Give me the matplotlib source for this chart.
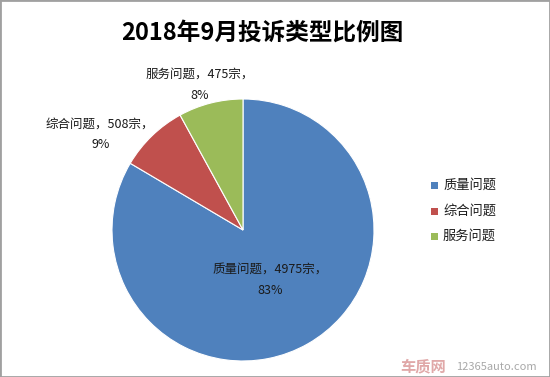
import matplotlib.pyplot as plt
from matplotlib.patches import Rectangle

plt.rcParams['font.family'] = ['Noto Sans CJK SC', 'DejaVu Sans']

title = '2018年9月投诉类型比例图'
categories = ['质量问题', '综合问题', '服务问题']
counts = [4975, 508, 475]
percents = [83, 9, 8]
colors = ['#4F81BD', '#C0504D', '#9BBB59']

fig = plt.figure(figsize=(5.5, 3.77), dpi=100)
fig.patch.set_facecolor('white')

# pie axes: square in pixels, centre ~ (243, 230)
ax = fig.add_axes([112 / 550, 16 / 377, 262 / 550, 262 / 377])
wedges, _ = ax.pie(counts, colors=colors, startangle=90, counterclock=False,
                   radius=1, wedgeprops=dict(edgecolor='white', linewidth=0.8))
ax.set_xlim(-1, 1)
ax.set_ylim(-1, 1)
ax.set_aspect('equal')
ax.axis('off')

# label spots (relative to pie centre, in radius units)
label_pos = [(0.21, -0.38), (-1.09, 0.73), (-0.33, 1.11)]
for name, n, p, (x, y) in zip(categories, counts, percents, label_pos):
    ax.text(x, y, '{0}，{1}宗，\n{2}%'.format(name, n, p), ha='center', va='center',
            fontsize=9, color='#1a1a1a', linespacing=1.8, clip_on=False)

fig.text(262 / 550, 1 - 33 / 377, title, ha='center', va='center',
         fontsize=17, fontweight='bold', color='black')

# legend
leg_y = [185, 211, 236]
for name, c, y in zip(categories, colors, leg_y):
    fig.patches.append(Rectangle((431 / 550, 1 - (y + 3.5) / 377), 7 / 550, 7 / 377,
                                 transform=fig.transFigure, facecolor=c, edgecolor='none'))
    fig.text(443 / 550, 1 - y / 377, name, ha='left', va='center', fontsize=9.5, color='#1a1a1a')

# watermark
fig.text(400 / 550, 1 - 366 / 377, '车质网', ha='left', va='center', fontsize=11,
         fontweight='bold', color='#e0a8a8')
fig.text(456 / 550, 1 - 367 / 377, '12365auto.com', ha='left', va='center', fontsize=8,
         color='#a8a8a8')

# outer border
fig.patches.append(Rectangle((0, 0), 1, 1, transform=fig.transFigure, fill=False,
                             edgecolor='#a0a0a0', linewidth=2))

fig.savefig('out.png', dpi=100)
